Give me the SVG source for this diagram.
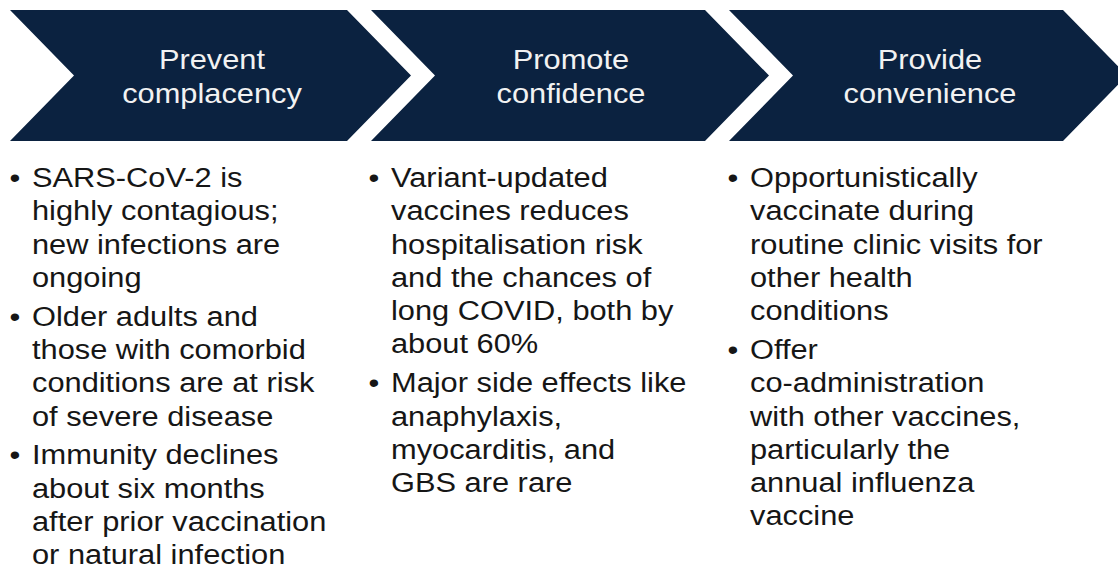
<svg xmlns="http://www.w3.org/2000/svg" width="1118" height="572" viewBox="0 0 1118 572">
  <style>
    .chev { fill: #0b2240; }
    .head { font-family: "Liberation Sans", Arial, sans-serif; font-size: 28.5px; fill: #f2f2f2; text-anchor: middle; }
    .body { font-family: "Liberation Sans", Arial, sans-serif; font-size: 28px; fill: #161616; }
    .dot { text-anchor: middle; }
  </style>
  <rect width="1118" height="572" fill="#ffffff"/>

  <!-- Step 1 -->
  <g id="step-prevent">
    <polygon class="chev" points="10,10 347,10 411,75.5 347,141 10,141 74,75.5"/>
    <g transform="translate(212,0) scale(1.08,1)">
      <text class="head"><tspan x="0" y="69">Prevent</tspan><tspan x="0" y="103">complacency</tspan></text>
    </g>
    <g transform="translate(32,0) scale(1.1,1)">
      <text class="body dot" x="-15.5" y="187">•</text>
      <text class="body dot" x="-15.5" y="325.7">•</text>
      <text class="body dot" x="-15.5" y="464.4">•</text>
      <text class="body">
        <tspan x="0" y="187">SARS-CoV-2 is</tspan>
        <tspan x="0" y="220.3">highly contagious;</tspan>
        <tspan x="0" y="253.6">new infections are</tspan>
        <tspan x="0" y="286.9">ongoing</tspan>
        <tspan x="0" y="325.7">Older adults and</tspan>
        <tspan x="0" y="359">those with comorbid</tspan>
        <tspan x="0" y="392.3">conditions are at risk</tspan>
        <tspan x="0" y="425.6">of severe disease</tspan>
        <tspan x="0" y="464.4">Immunity declines</tspan>
        <tspan x="0" y="497.7">about six months</tspan>
        <tspan x="0" y="531">after prior vaccination</tspan>
        <tspan x="0" y="564.3">or natural infection</tspan>
      </text>
    </g>
  </g>

  <!-- Step 2 -->
  <g id="step-promote">
    <polygon class="chev" points="371,10 705,10 769,75.5 705,141 371,141 435,75.5"/>
    <g transform="translate(571,0) scale(1.08,1)">
      <text class="head"><tspan x="0" y="69">Promote</tspan><tspan x="0" y="103">confidence</tspan></text>
    </g>
    <g transform="translate(391,0) scale(1.1,1)">
      <text class="body dot" x="-15.5" y="187">•</text>
      <text class="body dot" x="-15.5" y="392.3">•</text>
      <text class="body">
        <tspan x="0" y="187">Variant-updated</tspan>
        <tspan x="0" y="220.3">vaccines reduces</tspan>
        <tspan x="0" y="253.6">hospitalisation risk</tspan>
        <tspan x="0" y="286.9">and the chances of</tspan>
        <tspan x="0" y="320.2">long COVID, both by</tspan>
        <tspan x="0" y="353.5">about 60%</tspan>
        <tspan x="0" y="392.3">Major side effects like</tspan>
        <tspan x="0" y="425.6">anaphylaxis,</tspan>
        <tspan x="0" y="458.9">myocarditis, and</tspan>
        <tspan x="0" y="492.2">GBS are rare</tspan>
      </text>
    </g>
  </g>

  <!-- Step 3 -->
  <g id="step-provide">
    <polygon class="chev" points="729,10 1063,10 1127,75.5 1063,141 729,141 793,75.5"/>
    <g transform="translate(930,0) scale(1.08,1)">
      <text class="head"><tspan x="0" y="69">Provide</tspan><tspan x="0" y="103">convenience</tspan></text>
    </g>
    <g transform="translate(750,0) scale(1.1,1)">
      <text class="body dot" x="-15.5" y="187">•</text>
      <text class="body dot" x="-15.5" y="359">•</text>
      <text class="body">
        <tspan x="0" y="187">Opportunistically</tspan>
        <tspan x="0" y="220.3">vaccinate during</tspan>
        <tspan x="0" y="253.6">routine clinic visits for</tspan>
        <tspan x="0" y="286.9">other health</tspan>
        <tspan x="0" y="320.2">conditions</tspan>
        <tspan x="0" y="359">Offer</tspan>
        <tspan x="0" y="392.3">co-administration</tspan>
        <tspan x="0" y="425.6">with other vaccines,</tspan>
        <tspan x="0" y="458.9">particularly the</tspan>
        <tspan x="0" y="492.2">annual influenza</tspan>
        <tspan x="0" y="525.5">vaccine</tspan>
      </text>
    </g>
  </g>

  <!-- the steps are joined by their chevron shapes; no separate connector lines -->
  <g id="connectors"></g>
</svg>
